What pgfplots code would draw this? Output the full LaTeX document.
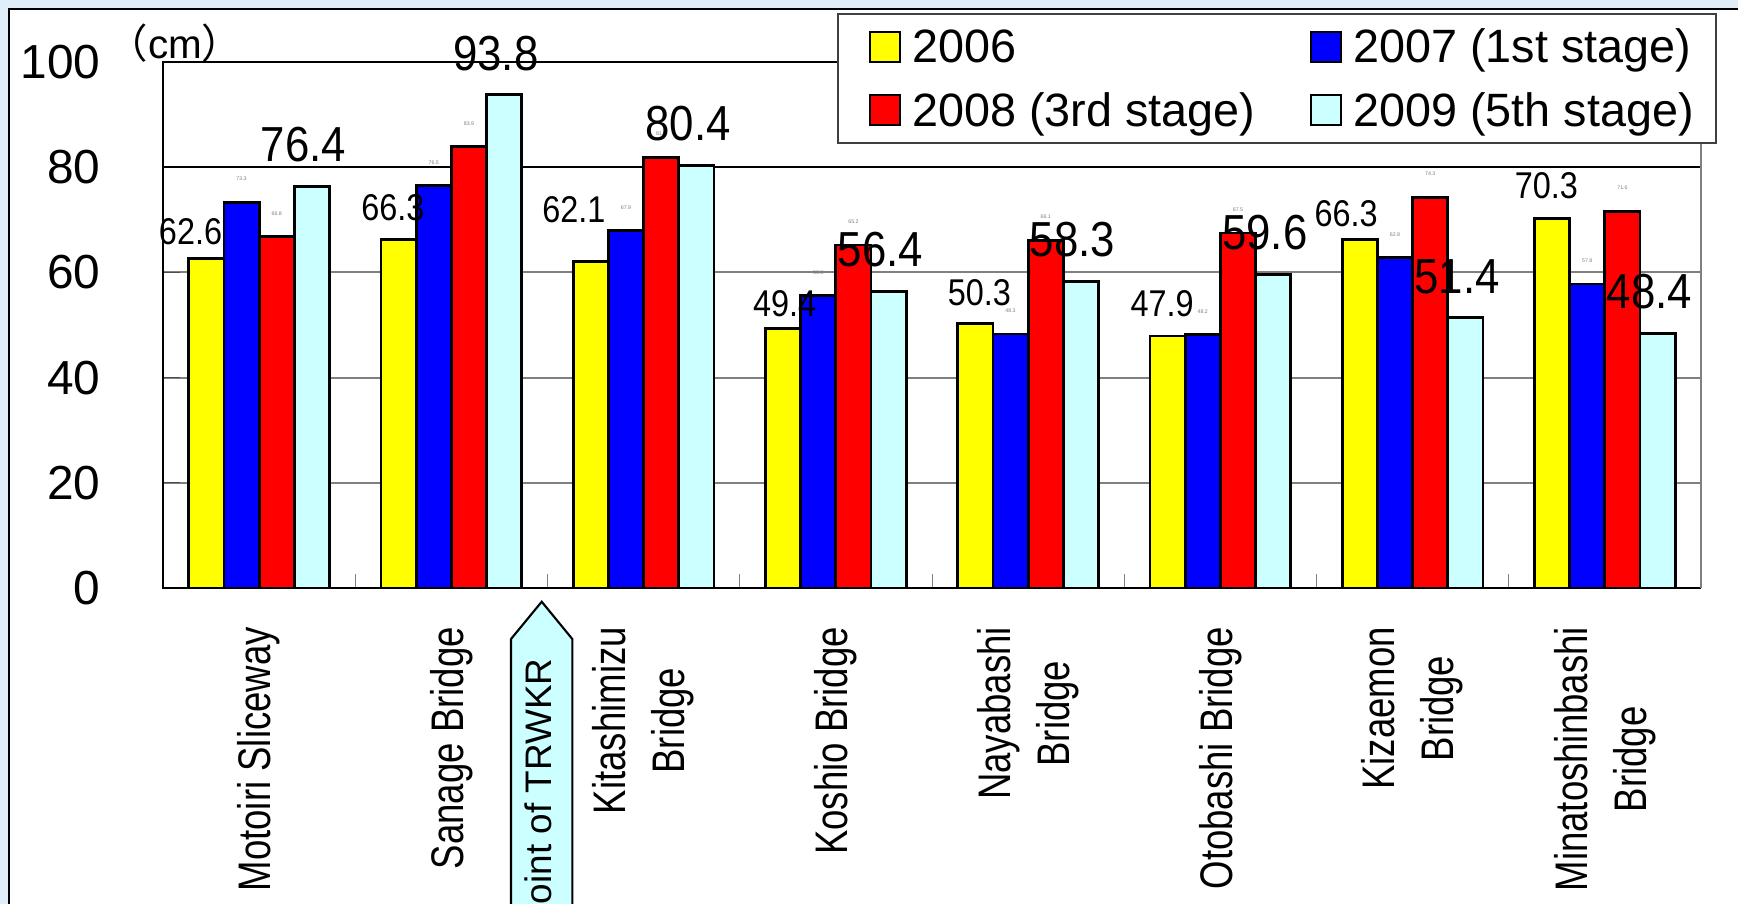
\documentclass[border=0pt]{standalone}
\usepackage{pgfplots}
\pgfplotsset{compat=1.18}
\usepackage{pgfplotstable}
\usepackage{fontspec}
\setmainfont{Liberation Sans}
\newfontfamily\cjk{Noto Sans CJK JP}
\definecolor{c06}{RGB}{255,255,0}
\definecolor{c07}{RGB}{0,0,255}
\definecolor{c08}{RGB}{255,0,0}
\definecolor{c09}{RGB}{204,255,255}
\definecolor{bgA}{RGB}{224,238,250}
\definecolor{bgB}{RGB}{198,239,250}
\newcommand{\catlab}[1]{\scalebox{0.8}[1]{\begin{tabular}{@{}c@{}}#1\end{tabular}}}
\newcommand{\numfmt}{\pgfmathprintnumber[fixed,fixed zerofill,precision=1]{\pgfplotspointmeta}}

\pgfplotstableread{
x y dx dy
0 62.6 -1.58 1.20
1 66.3 -0.57 1.70
2 62.1 -1.70 3.70
3 49.4 0.16 0.94
4 50.3 0.40 1.60
5 47.9 -0.55 1.77
6 66.3 -1.37 1.07
7 70.3 -0.57 1.83
}\yellowdata
\pgfplotstableread{
x y
0 73.3
1 76.5
2 67.9
3 55.6
4 48.3
5 48.2
6 62.8
7 57.8
}\bluedata
\pgfplotstableread{
x y
0 66.8
1 83.9
2 81.9
3 65.2
4 66.1
5 67.5
6 74.3
7 71.6
}\reddata
\pgfplotstableread{
x y
0 76.4
1 93.8
2 80.4
3 56.4
4 58.3
5 59.6
6 51.4
7 48.4
}\cyandata

\begin{document}
\begin{tikzpicture}
\useasboundingbox (0,0) rectangle (173.8mm,-90.4mm);
\clip (0,0) rectangle (173.8mm,-90.4mm);
\shade[left color=bgA, middle color=bgB, right color=bgA] (0,0) rectangle (173.8mm,-90.4mm);
\fill[white] (0.93mm,-0.93mm) rectangle (176mm,-93mm);
\draw[line width=0.5pt] (0.93mm,-93mm) -- (0.93mm,-0.93mm) -- (176mm,-0.93mm);

\begin{axis}[
  at={(16.3mm,-58.8mm)}, anchor=south west,
  scale only axis, width=153.8mm, height=52.6mm,
  xmin=-0.5, xmax=7.5, ymin=0, ymax=100,
  clip=false,
  ybar=0pt, bar width=3.52mm,
  /pgf/number format/assume math mode=true,
  axis line style={draw=none},
  tick align=inside,
  xtick pos=lower, ytick pos=left,
  ytick={0,20,...,100},
  ymajorgrids, grid style={draw=gray, line width=0.6pt},
  major tick length=1.7mm,
  every major y tick/.append style={black!70},
  xtick={0,...,7},
  every major x tick/.append style={draw=none},
  minor xtick={0.5,1.5,...,6.5},
  minor tick length=1.4mm,
  every minor x tick/.append style={gray},
  xticklabels={{\catlab{Motoiri Sliceway}},{\catlab{Sanage Bridge}},{\catlab{Kitashimizu\\Bridge}},{\catlab{Koshio Bridge}},{\catlab{Nayabashi\\Bridge}},{\catlab{Otobashi Bridge}},{\catlab{Kizaemon\\Bridge}},{\catlab{Minatoshinbashi\\Bridge}}},
  xticklabel style={rotate=90, anchor=east, inner sep=0pt, font=\fontsize{13}{16.8}\selectfont},
  xticklabel shift=3.85mm,
  yticklabel style={anchor=east, inner sep=0pt, xshift=-6.2mm, font=\fontsize{13.6}{16}\selectfont},
  extra y ticks={80}, extra y tick labels={},
  extra y tick style={grid=major, grid style={draw=black, line width=0.6pt}, major tick length=0pt},
  legend columns=2, legend cell align=left,
  legend style={at={(0.4380,1.0932)}, anchor=north west, draw=black!75, line width=0.6pt, fill=white,
    font=\fontsize{13.3}{15.6}\selectfont, inner xsep=2.2mm, inner ysep=1.04mm, row sep=1.82mm,
    nodes={inner sep=0pt, text height=3.85mm, text depth=0.65mm},
    /tikz/every even column/.append style={column sep=4.5mm}},
  legend image code/.code={\draw[#1, line width=0.6pt] (0mm,-1.5mm) rectangle (3mm,1.5mm); \path (-0.9mm,0mm) (4.1mm,0mm);},
]
\addplot[fill=c06, draw=black, line width=0.8pt,
  visualization depends on={\thisrow{dx} \as \dx},
  visualization depends on={\thisrow{dy} \as \dy},
  nodes near coords={\scalebox{0.87}[1]{\fontsize{10.6}{12}\selectfont\numfmt}},
  every node near coord/.append style={anchor=south, inner sep=0pt, xshift=\dx mm, yshift=\dy mm, text=black}
] table[x=x,y=y]{\yellowdata};
\addlegendentry{2006}
\addplot[fill=c07, draw=black, line width=0.8pt,
  nodes near coords={\fontsize{1.5}{2}\selectfont\numfmt},
  every node near coord/.append style={anchor=south, inner sep=0pt, yshift=2mm, text=gray}
] table[x=x,y=y]{\bluedata};
\addlegendentry{2007 (1st stage)}
\addplot[fill=c08, draw=black, line width=0.8pt,
  nodes near coords={\fontsize{1.5}{2}\selectfont\numfmt},
  every node near coord/.append style={anchor=south, inner sep=0pt, yshift=2mm, text=gray}
] table[x=x,y=y]{\reddata};
\addlegendentry{2008 (3rd stage)}
\addplot[fill=c09, draw=black, line width=0.8pt,
  nodes near coords={\scalebox{0.89}[1]{\fontsize{14}{16}\selectfont\numfmt}},
  every node near coord/.append style={anchor=south, inner sep=0pt, xshift=-0.84mm, yshift=2.27mm, text=black}
] table[x=x,y=y]{\cyandata};
\addlegendentry{2009 (5th stage)}
\draw[black, line width=0.7pt] (rel axis cs:1,0) -- (rel axis cs:0,0) -- (rel axis cs:0,1) -- (rel axis cs:1,1);
\draw[gray, line width=0.6pt] (rel axis cs:1,1) -- (rel axis cs:1,0);
\end{axis}

\node[font=\fontsize{11.5}{13}\selectfont, inner sep=0pt] at (17.5mm,-4.3mm) {{\cjk （}cm{\cjk ）}};

\draw[line width=0.6pt, fill=c09] (51.1mm,-95mm) -- (51.1mm,-63.9mm) -- (54.17mm,-60.17mm) -- (57.23mm,-63.9mm) -- (57.23mm,-95mm);
\node[rotate=90, anchor=east, inner sep=0pt, font=\fontsize{10.5}{12}\selectfont] at (54.2mm,-65.8mm) {Starting point of TRWKR};
\end{tikzpicture}
\end{document}
